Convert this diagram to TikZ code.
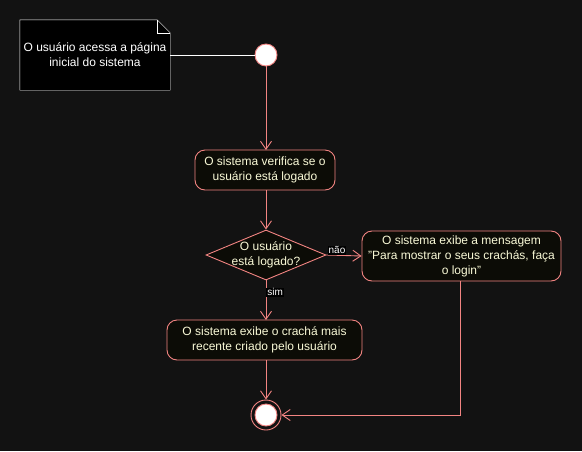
\documentclass[tikz,border=0pt]{standalone}
\usepackage{fontspec}
\setmainfont{Liberation Sans}
\usetikzlibrary{arrows.meta,shapes.geometric}
\definecolor{bgdark}{RGB}{18,18,18}
\definecolor{edgepink}{RGB}{242,132,130}
\definecolor{actfill}{RGB}{12,12,6}
\definecolor{actext}{RGB}{250,250,215}
\tikzset{
	action/.style={draw=edgepink, line width=0.9pt, fill=actfill, text=actext, rounded corners=10pt, align=center, minimum height=40pt, inner sep=3pt},
	decision/.style={draw=edgepink, line width=0.9pt, fill=actfill, text=actext, diamond, aspect=2.4, align=center, inner sep=-4pt, minimum width=120pt, minimum height=50pt},
	flow/.style={draw=edgepink, line width=0.9pt, -{Straight Barb[length=8pt,width=11pt]}},
	guard/.style={fill=black, text=white, inner sep=1pt, font=\fontsize{10}{12}\selectfont},
}
\begin{document}
\begin{tikzpicture}[x=1pt,y=-1pt,font=\fontsize{12}{15}\selectfont]
	\fill[bgdark] (0,0) rectangle (582,451);
	\useasboundingbox (0,0) rectangle (582,451);
	% nota
	\node[minimum width=150pt, minimum height=70pt, text=white, align=center] (note) at (95,55) {O usuário acessa a página\\inicial do sistema};
	\draw[white, fill=black] (note.north west) -- ([xshift=-13pt]note.north east) -- ([yshift=-13pt]note.north east) -- (note.south east) -- (note.south west) -- cycle;
	\draw[white] ([xshift=-13pt]note.north east) -- ([xshift=-13pt,yshift=-13pt]note.north east) -- ([yshift=-13pt]note.north east);
	\node[text=white, align=center] at (note) {O usuário acessa a página\\inicial do sistema};
	% inicio
	\node[circle, draw=edgepink, line width=0.9pt, fill=white, minimum size=22pt, inner sep=0pt] (start) at (266,55) {};
	\draw[white] (note.east) -- (start.west);
	% atividades
	\node[action, minimum width=140pt] (verifica) at (265,170) {O sistema verifica se o\\usuário está logado};
	\node[decision] (logado) at (266,255) {O usuário\\está logado?};
	\node[action, minimum width=199pt, minimum height=50pt] (mensagem) at (461.5,256) {O sistema exibe a mensagem\\"Para mostrar o seus crachás, faça\\o login"};
	\node[action, minimum width=195pt] (cracha) at (264.5,340) {O sistema exibe o crachá mais\\recente criado pelo usuário};
	% fim
	\node[circle, draw=edgepink, line width=0.9pt, fill=bgdark, minimum size=30pt, inner sep=0pt] (final) at (266,415) {};
	\node[circle, draw=edgepink, line width=0.9pt, fill=white, minimum size=22pt, inner sep=0pt] at (final) {};
	% fluxos
	\draw[flow] (start.south) -- (266,150);
	\draw[flow] (266,190) -- (logado.north);
	\draw[flow] (logado.east) -- node[guard, above, pos=0.3] {não} (mensagem.west);
	\draw[flow] (logado.south) -- node[guard, right, pos=0.3] {sim} (266,320);
	\draw[flow] (266,360) -- (final.north);
	\draw[flow] (mensagem.south -| 460,0) |- (final.east);
\end{tikzpicture}
\end{document}
